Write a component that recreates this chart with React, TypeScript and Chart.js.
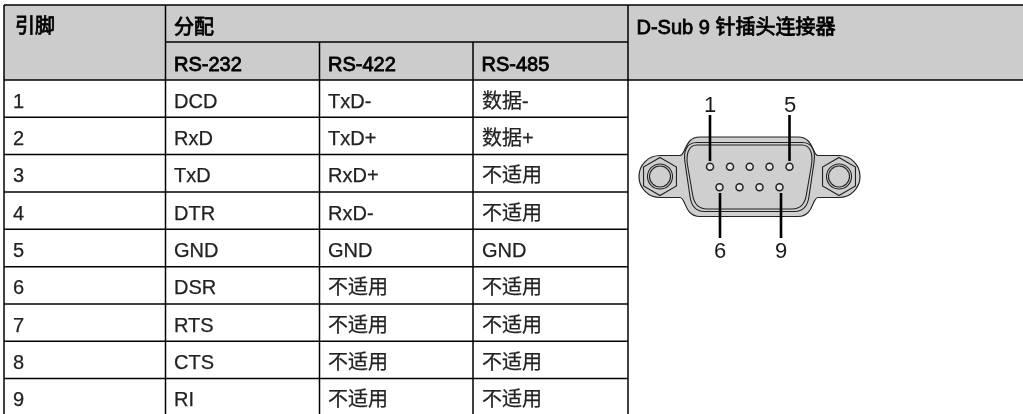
import React, { useEffect, useRef } from "react";
import { Chart, registerables } from "chart.js";

Chart.register(...registerables);

const W = 1023;
const H = 414;

const headerTop = ["引脚", "分配", "D-Sub 9 针插头连接器"];
const protocols = ["RS-232", "RS-422", "RS-485"];
const pins = ["1", "2", "3", "4", "5", "6", "7", "8", "9"];
const rs232 = ["DCD", "RxD", "TxD", "DTR", "GND", "DSR", "RTS", "CTS", "RI"];
const rs422 = ["TxD-", "TxD+", "RxD+", "RxD-", "GND", "不适用", "不适用", "不适用", "不适用"];
const rs485 = ["数据-", "数据+", "不适用", "不适用", "GND", "不适用", "不适用", "不适用", "不适用"];
const pinLabels = ["1", "5", "6", "9"];

const colX = [4, 165.5, 319.5, 473, 628];
const rowY = [80, 117.3, 154.5, 192, 229.3, 266.7, 304, 341.3, 378.5, 414];
const headY = [5, 42, 80];

const topPinsX = [710, 730, 749.7, 769.5, 789.5];
const bottomPinsX = [719.5, 739.5, 759.5, 779.5];
const topPinY = 166.7;
const bottomPinY = 187.3;

const latin = '"Liberation Sans", Arial, sans-serif';
const FONT = `20px ${latin}, "Noto Sans CJK SC"`;

function drawSketch(chart: any) {
  const { ctx, scales } = chart;
  const X = (v: number) => scales.x.getPixelForValue(v);
  const Y = (v: number) => scales.y.getPixelForValue(v);
  const line = (x1: number, y1: number, x2: number, y2: number) => {
    ctx.beginPath();
    ctx.moveTo(X(x1), Y(y1));
    ctx.lineTo(X(x2), Y(y2));
    ctx.stroke();
  };

  ctx.save();
  // header fill
  ctx.fillStyle = "#cccccc";
  ctx.fillRect(X(colX[0]), Y(headY[0]), X(W) - X(colX[0]), Y(headY[2]) - Y(headY[0]));

  // rules
  ctx.strokeStyle = "#000";
  ctx.lineWidth = 1.5;
  line(colX[0], headY[0], W, headY[0]);
  line(colX[1], headY[1], colX[4], headY[1]);
  line(colX[0], headY[2], W, headY[2]);
  rowY.slice(1, -1).forEach((y) => line(colX[0], y, colX[4], y));
  line(colX[0], headY[0], colX[0], H);
  line(colX[1], headY[0], colX[1], H);
  line(colX[2], headY[1], colX[2], H);
  line(colX[3], headY[1], colX[3], H);
  line(colX[4], headY[0], colX[4], H);

  // connector body
  ctx.strokeStyle = "#222";
  ctx.lineWidth = 1.2;
  ctx.fillStyle = "#cfcfcf";
  ctx.beginPath();
  ctx.moveTo(X(660), Y(155.5));
  ctx.lineTo(X(680), Y(155.5));
  ctx.bezierCurveTo(X(686), Y(155.5), X(684), Y(137), X(700), Y(137));
  ctx.lineTo(X(798), Y(137));
  ctx.bezierCurveTo(X(814), Y(137), X(812), Y(155.5), X(818), Y(155.5));
  ctx.lineTo(X(839), Y(155.5));
  ctx.arc(X(839), Y(176.5), 21, -Math.PI / 2, Math.PI / 2);
  ctx.lineTo(X(818), Y(197.5));
  ctx.bezierCurveTo(X(812), Y(197.5), X(814), Y(216.5), X(798), Y(216.5));
  ctx.lineTo(X(700), Y(216.5));
  ctx.bezierCurveTo(X(684), Y(216.5), X(686), Y(197.5), X(680), Y(197.5));
  ctx.lineTo(X(660), Y(197.5));
  ctx.arc(X(660), Y(176.5), 21, Math.PI / 2, (3 * Math.PI) / 2);
  ctx.closePath();
  ctx.fill();
  ctx.stroke();

  // D-shaped shell, double outline
  const shell = (inset: number) => {
    const l = 684.5 + inset;
    const r = 814.5 - inset;
    const t = 142.5 + inset;
    const b = 211.5 - inset;
    ctx.beginPath();
    ctx.moveTo(X(697), Y(t));
    ctx.lineTo(X(802), Y(t));
    ctx.bezierCurveTo(X(r - 1), Y(t), X(r + 1), Y(t + 10), X(r - 0.5), Y(t + 20));
    ctx.lineTo(X(r - 5.5), Y(b - 15));
    ctx.bezierCurveTo(X(r - 7), Y(b - 4), X(r - 12), Y(b), X(r - 20), Y(b));
    ctx.lineTo(X(l + 20), Y(b));
    ctx.bezierCurveTo(X(l + 12), Y(b), X(l + 7), Y(b - 4), X(l + 5.5), Y(b - 15));
    ctx.lineTo(X(l + 0.5), Y(t + 20));
    ctx.bezierCurveTo(X(l - 1), Y(t + 10), X(l + 1), Y(t), X(697), Y(t));
    ctx.closePath();
    ctx.stroke();
  };
  ctx.lineWidth = 1.1;
  shell(0);
  shell(2.5);

  // mounting hexagons and holes
  [660, 839].forEach((cx) => {
    ctx.beginPath();
    for (let i = 0; i < 6; i++) {
      const a = -Math.PI / 2 + (i * Math.PI) / 3;
      const px = X(cx) + 19 * Math.cos(a);
      const py = Y(176.5) + 19 * Math.sin(a);
      if (i === 0) ctx.moveTo(px, py);
      else ctx.lineTo(px, py);
    }
    ctx.closePath();
    ctx.stroke();
    ctx.beginPath();
    ctx.arc(X(cx), Y(176.5), 12.5, 0, Math.PI * 2);
    ctx.stroke();
    ctx.beginPath();
    ctx.arc(X(cx), Y(176.5), 10.5, 0, Math.PI * 2);
    ctx.stroke();
  });
  ctx.restore();
}

function drawTexts(chart: any) {
  const { ctx, scales } = chart;
  const X = (v: number) => scales.x.getPixelForValue(v);
  const Y = (v: number) => scales.y.getPixelForValue(v);
  ctx.save();
  ctx.textBaseline = "alphabetic";
  ctx.textAlign = "left";
  ctx.font = FONT;

  const head = (t: string, x: number, y: number) => {
    ctx.fillStyle = "#000";
    ctx.strokeStyle = "#000";
    ctx.lineWidth = 0.8;
    ctx.fillText(t, X(x), Y(y));
    ctx.strokeText(t, X(x), Y(y));
  };
  head(headerTop[0], 15, 33);
  head(headerTop[1], 174, 34);
  head(headerTop[2], 636.5, 34);
  protocols.forEach((p, i) => head(p, colX[i + 1] + 8.5, 71));

  ctx.fillStyle = "#222";
  ctx.strokeStyle = "#222";
  ctx.lineWidth = 0.25;
  const columns = [pins, rs232, rs422, rs485];
  const textX = [13, 174, 328, 482];
  columns.forEach((col, c) => {
    col.forEach((t, r) => {
      ctx.fillText(t, X(textX[c]), Y(rowY[r] + 27.6));
      ctx.strokeText(t, X(textX[c]), Y(rowY[r] + 27.6));
    });
  });

  ctx.fillStyle = "#1a1a1a";
  ctx.textAlign = "center";
  ctx.font = `22px ${latin}`;
  const labelPos = [
    [710, 112],
    [790, 112],
    [720, 258],
    [781, 258],
  ];
  pinLabels.forEach((t, i) => ctx.fillText(t, X(labelPos[i][0]), Y(labelPos[i][1])));
  ctx.restore();
}

const sketchPlugin = {
  id: "sketch",
  beforeDatasetsDraw: drawSketch,
  afterDatasetsDraw: drawTexts,
};

const leader = (x: number, y1: number, y2: number) => ({
  type: "line" as const,
  data: [
    { x, y: y1 },
    { x, y: y2 },
  ],
  borderColor: "#000",
  borderWidth: 2.6,
  pointRadius: 0,
  showLine: true,
});

export default function App() {
  const ref = useRef<HTMLCanvasElement>(null);
  useEffect(() => {
    const chart = new Chart(ref.current!, {
      type: "scatter",
      data: {
        datasets: [
          {
            data: [
              ...topPinsX.map((x) => ({ x, y: topPinY })),
              ...bottomPinsX.map((x) => ({ x, y: bottomPinY })),
            ],
            pointRadius: 3.5,
            pointBorderWidth: 1.5,
            pointBorderColor: "#222",
            pointBackgroundColor: "#e4e4e4",
            order: 1,
          },
          leader(710, 115, 161),
          leader(789.5, 115, 161),
          leader(720, 193, 238),
          leader(781, 193, 238),
        ] as any,
      },
      options: {
        animation: false,
        responsive: false,
        layout: { padding: 0, autoPadding: false },
        events: [],
        plugins: { legend: { display: false }, tooltip: { enabled: false }, title: { display: false } },
        scales: {
          x: { type: "linear", display: false, min: 0, max: W },
          y: { type: "linear", display: false, min: 0, max: H, reverse: true },
        },
      },
      plugins: [sketchPlugin],
    });
    return () => chart.destroy();
  }, []);
  return (
    <div style={{ position: "absolute", left: 0, top: 0, width: W, height: H, background: "#fff" }}>
      <canvas ref={ref} width={W} height={H} style={{ display: "block", width: W, height: H }} />
    </div>
  );
}
